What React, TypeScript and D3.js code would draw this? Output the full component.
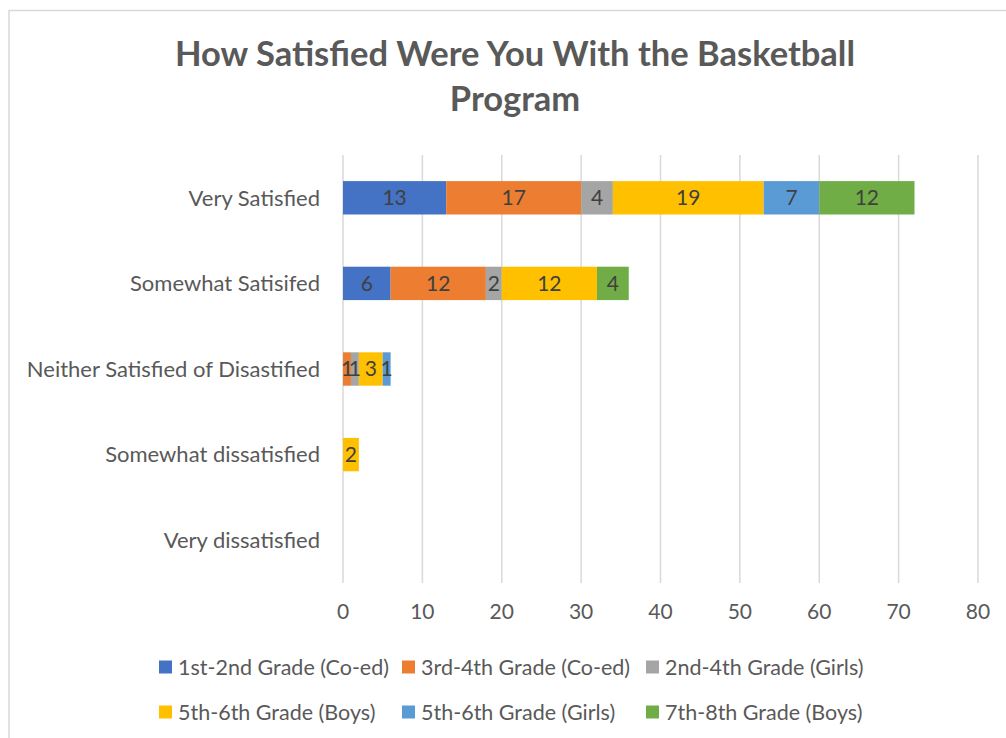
import React from 'react';
import { scaleLinear, scaleBand } from 'd3';

const categories = ['Very Satisfied', 'Somewhat Satisifed', 'Neither Satisfied of Disastified', 'Somewhat dissatisfied', 'Very dissatisfied'];
const seriesNames = ['1st-2nd Grade (Co-ed)', '3rd-4th Grade (Co-ed)', '2nd-4th Grade (Girls)', '5th-6th Grade (Boys)', '5th-6th Grade (Girls)', '7th-8th Grade (Boys)'];
const seriesColors = ['#4472C4', '#ED7D31', '#A5A5A5', '#FFC000', '#5B9BD5', '#70AD47'];
// one row per series, one value per category
const seriesValues = [
  [13, 6, 0, 0, 0],
  [17, 12, 1, 0, 0],
  [4, 2, 1, 0, 0],
  [19, 12, 3, 2, 0],
  [7, 0, 1, 0, 0],
  [12, 4, 0, 0, 0],
];
const xTicks = [0, 10, 20, 30, 40, 50, 60, 70, 80];

const FONT = 'Lato, "Open Sans", sans-serif';

export default function App() {
  const x = scaleLinear().domain([0, 80]).range([343, 978]);
  const y = scaleBand().domain(categories).range([155, 583]).paddingInner(0.61).paddingOuter(0.305);

  const segs = [];
  categories.forEach((c, ci) => {
    let acc = 0;
    seriesValues.forEach((vals, si) => {
      const v = vals[ci];
      if (v > 0) segs.push({ c, si, v, x0: acc, x1: acc + v });
      acc += v;
    });
  });

  return (
    <svg width={1006} height={738} style={{ position: 'absolute', left: 0, top: 0, fontFamily: FONT }}>
      <rect x={0} y={0} width={1006} height={738} fill="#fff" />
      <rect x={9} y={10.5} width={1000} height={740} fill="#fff" stroke="#d9d9d9" strokeWidth={1.5} />
      <text x={515} y={66} textAnchor="middle" fontSize={34.5} fontWeight="bold" fill="#595959">How Satisfied Were You With the Basketball</text>
      <text x={515} y={111} textAnchor="middle" fontSize={34.5} fontWeight="bold" fill="#595959">Program</text>

      {xTicks.map(t => (
        <g key={t}>
          <line x1={x(t)} x2={x(t)} y1={155} y2={583} stroke="#d9d9d9" strokeWidth={1.5} />
          <text x={x(t)} y={612} dy="0.35em" textAnchor="middle" fontSize={21} fill="#595959">{t}</text>
        </g>
      ))}

      {categories.map(c => (
        <text key={c} x={320} y={y(c) + y.bandwidth() / 2} dy="0.35em" textAnchor="end" fontSize={22} fill="#595959">{c}</text>
      ))}

      {segs.map((s, i) => (
        <g key={i}>
          <rect x={x(s.x0)} y={y(s.c)} width={x(s.x1) - x(s.x0)} height={y.bandwidth()} fill={seriesColors[s.si]} />
        </g>
      ))}
      {segs.map((s, i) => (
        <text key={'l' + i} x={(x(s.x0) + x(s.x1)) / 2} y={y(s.c) + y.bandwidth() / 2} dy="0.35em" textAnchor="middle" fontSize={21} fill="#404040">{s.v}</text>
      ))}

      {seriesNames.map((n, i) => {
        const col = i % 3;
        const row = Math.floor(i / 3);
        const lx = [159, 402, 646][col];
        const ly = [667, 712][row];
        return (
          <g key={n}>
            <rect x={lx} y={ly - 6.5} width={13} height={13} fill={seriesColors[i]} />
            <text x={lx + 19} y={ly} dy="0.35em" fontSize={21.5} fill="#595959">{n}</text>
          </g>
        );
      })}
    </svg>
  );
}
